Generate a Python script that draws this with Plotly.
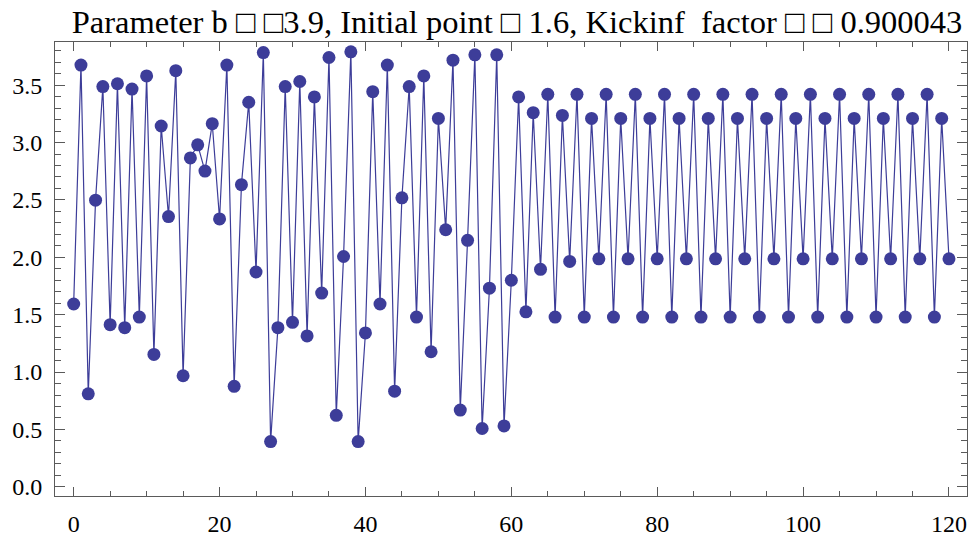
import plotly.graph_objects as go

title_text = "Parameter b \u25a1 \u25a13.9, Initial point \u25a1 1.6, Kickinf  factor \u25a1 \u25a1 0.900043"

steps = list(range(0, 121))
values = [
    1.593, 3.675, 0.810, 2.498, 3.488, 1.413, 3.512, 1.387, 3.466, 1.479,
    3.580, 1.154, 3.144, 2.355, 3.626, 0.968, 2.866, 2.980, 2.751, 3.164,
    2.334, 3.675, 0.876, 2.633, 3.351, 1.872, 3.784, 0.394, 1.387, 3.488,
    1.433, 3.532, 1.315, 3.397, 1.688, 3.741, 0.623, 2.007, 3.790, 0.394,
    1.341, 3.443, 1.593, 3.675, 0.833, 2.518, 3.488, 1.479, 3.580, 1.177,
    3.210, 2.240, 3.718, 0.669, 2.148, 3.764, 0.508, 1.731, 3.764, 0.531,
    1.800, 3.397, 1.525, 3.260, 1.895, 3.420, 1.479, 3.236, 1.964, 3.420,
    1.479, 3.210, 1.987, 3.420, 1.479, 3.210, 1.987, 3.420, 1.479, 3.210,
    1.987, 3.420, 1.479, 3.210, 1.987, 3.420, 1.479, 3.210, 1.987, 3.420,
    1.479, 3.210, 1.987, 3.420, 1.479, 3.210, 1.987, 3.420, 1.479, 3.210,
    1.987, 3.420, 1.479, 3.210, 1.987, 3.420, 1.479, 3.210, 1.987, 3.420,
    1.479, 3.210, 1.987, 3.420, 1.479, 3.210, 1.987, 3.420, 1.479, 3.210,
    1.987,
]

x_ticks = [0, 20, 40, 60, 80, 100, 120]
y_ticks = [0.0, 0.5, 1.0, 1.5, 2.0, 2.5, 3.0, 3.5]
y_tick_labels = ["0.0", "0.5", "1.0", "1.5", "2.0", "2.5", "3.0", "3.5"]

color = "#3d3d99"
frame = "#5a5a5a"
font = "Liberation Serif"

fig = go.Figure(
    go.Scatter(
        x=steps, y=values, mode="lines+markers",
        line=dict(color=color, width=1.2),
        marker=dict(color=color, size=13, line=dict(width=0)),
        showlegend=False,
    )
)

fig.update_layout(
    width=969, height=538,
    margin=dict(l=55, r=1, t=42, b=37),
    paper_bgcolor="white", plot_bgcolor="white",
    title=dict(text=title_text, xref="container", x=517 / 969, xanchor="center",
               yref="container", y=1 - 22 / 538, yanchor="middle",
               font=dict(family=font, size=32.5, color="black")),
    font=dict(family=font, size=24, color="black"),
)

fig.update_xaxes(
    range=[-2.56, 122.47], tickvals=x_ticks, ticktext=[str(v) for v in x_ticks],
    showgrid=False, zeroline=False,
    showline=True, linecolor=frame, linewidth=1, mirror="allticks",
    ticks="inside", ticklen=9, tickcolor=frame, tickwidth=1,
    minor=dict(dtick=5, tick0=0, ticks="inside", ticklen=5, tickcolor=frame, showgrid=False),
    tickfont=dict(family=font, size=24, color="black"),
    ticklabelstandoff=6,
)
fig.update_yaxes(
    range=[-0.08, 3.876], tickvals=y_ticks, ticktext=y_tick_labels,
    showgrid=False, zeroline=False,
    showline=True, linecolor=frame, linewidth=1, mirror="allticks",
    ticks="inside", ticklen=10, tickcolor=frame, tickwidth=1,
    minor=dict(dtick=0.1, tick0=0, ticks="inside", ticklen=6, tickcolor=frame, showgrid=False),
    tickfont=dict(family=font, size=24, color="black"),
    ticklabelstandoff=7,
)

fig.write_html(
    "out.html",
    config={"displayModeBar": False},
    post_script="document.body.style.margin='0';document.body.style.padding='0';",
)
